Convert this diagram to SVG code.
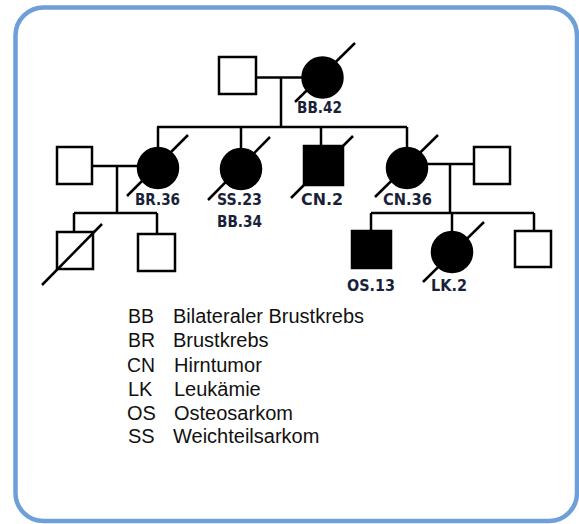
<svg xmlns="http://www.w3.org/2000/svg" width="579" height="524" viewBox="0 0 579 524">
<style>
.ln{stroke:#000;stroke-width:2.5;fill:none}
.m{fill:#fff;stroke:#000;stroke-width:2.5}
.a{fill:#000;stroke:#000;stroke-width:2.5}
.d{stroke:#000;stroke-width:2.5}
.lb{font-family:"DejaVu Sans",sans-serif;font-weight:bold;font-size:16px;fill:#1a1f3a}
.lg{font-family:"Liberation Sans",Arial,sans-serif;font-size:20px;fill:#111}
</style>
<rect x="15.5" y="7.5" width="561.5" height="513.5" rx="28" ry="28" fill="#fff" stroke="#6e9fd9" stroke-width="4.5"/>
<g id="connectors">
<line class="ln" x1="256" y1="77.5" x2="302" y2="77.5"/>
<line class="ln" x1="281" y1="77.5" x2="281" y2="127"/>
<line class="ln" x1="157" y1="127" x2="407" y2="127"/>
<line class="ln" x1="158" y1="127" x2="158" y2="148"/>
<line class="ln" x1="241" y1="127" x2="241" y2="148"/>
<line class="ln" x1="321" y1="127" x2="321" y2="146"/>
<line class="ln" x1="407" y1="127" x2="407" y2="148"/>
<line class="ln" x1="92" y1="166" x2="138" y2="166"/>
<line class="ln" x1="117" y1="166" x2="117" y2="213"/>
<line class="ln" x1="74" y1="213" x2="157" y2="213"/>
<line class="ln" x1="74" y1="213" x2="74" y2="232"/>
<line class="ln" x1="157" y1="213" x2="157" y2="234"/>
<line class="ln" x1="427" y1="164" x2="474" y2="164"/>
<line class="ln" x1="450" y1="164" x2="450" y2="213"/>
<line class="ln" x1="371" y1="213" x2="534" y2="213"/>
<line class="ln" x1="371" y1="213" x2="371" y2="231"/>
<line class="ln" x1="452" y1="213" x2="452" y2="232"/>
<line class="ln" x1="534" y1="213" x2="534" y2="231"/>
</g>
<g id="grandfather"><rect class="m" x="219" y="57" width="37" height="37" stroke-width="3.5"/></g>
<g id="grandmother"><circle class="a" cx="322.5" cy="77.5" r="20"/><line class="d" x1="355" y1="43" x2="295" y2="102"/><text class="lb" x="297" y="113" textLength="45" lengthAdjust="spacingAndGlyphs">BB.42</text></g>
<g id="husband1"><rect class="m" x="57" y="147" width="35" height="37"/></g>
<g id="daughter1"><circle class="a" cx="158" cy="168" r="20"/><line class="d" x1="188" y1="135" x2="127" y2="196"/><text class="lb" x="135" y="205" textLength="45" lengthAdjust="spacingAndGlyphs">BR.36</text></g>
<g id="daughter2"><circle class="a" cx="241" cy="169" r="20"/><line class="d" x1="270" y1="137" x2="208" y2="200"/><text class="lb" x="217" y="205" textLength="45" lengthAdjust="spacingAndGlyphs">SS.23</text><text class="lb" x="217" y="227" textLength="45" lengthAdjust="spacingAndGlyphs">BB.34</text></g>
<g id="son1"><rect class="a" x="304" y="146" width="39" height="39"/><line class="d" x1="353" y1="136" x2="291" y2="198"/><text class="lb" x="301" y="205" textLength="42" lengthAdjust="spacingAndGlyphs">CN.2</text></g>
<g id="daughter3"><circle class="a" cx="407" cy="168" r="20"/><line class="d" x1="438" y1="135" x2="375" y2="197"/><text class="lb" x="383" y="205" textLength="49" lengthAdjust="spacingAndGlyphs">CN.36</text></g>
<g id="husband3"><rect class="m" x="474" y="147" width="36" height="37"/></g>
<g id="grandson1"><rect class="m" x="57" y="232" width="36" height="37"/><line class="d" x1="102" y1="224" x2="42" y2="285"/></g>
<g id="grandson2"><rect class="m" x="138" y="234" width="37" height="37"/></g>
<g id="grandson3"><rect class="a" x="352" y="231" width="39" height="37"/><text class="lb" x="347" y="291" textLength="48" lengthAdjust="spacingAndGlyphs">OS.13</text></g>
<g id="granddaughter"><circle class="a" cx="452" cy="252" r="20"/><line class="d" x1="484" y1="222" x2="423" y2="282"/><text class="lb" x="431" y="291" textLength="36" lengthAdjust="spacingAndGlyphs">LK.2</text></g>
<g id="grandson4"><rect class="m" x="515" y="231" width="36" height="36"/></g>
<g id="legend">
<text class="lg" x="128" y="323" textLength="26" lengthAdjust="spacingAndGlyphs">BB</text><text class="lg" x="173" y="323" textLength="191" lengthAdjust="spacingAndGlyphs">Bilateraler Brustkrebs</text>
<text class="lg" x="128" y="347" textLength="27" lengthAdjust="spacingAndGlyphs">BR</text><text class="lg" x="173" y="347">Brustkrebs</text>
<text class="lg" x="127" y="372" textLength="28" lengthAdjust="spacingAndGlyphs">CN</text><text class="lg" x="174" y="372">Hirntumor</text>
<text class="lg" x="128" y="396">LK</text><text class="lg" x="174" y="396">Leukämie</text>
<text class="lg" x="127" y="420">OS</text><text class="lg" x="174" y="420">Osteosarkom</text>
<text class="lg" x="128" y="443">SS</text><text class="lg" x="173" y="443">Weichteilsarkom</text>
</g>
</svg>
